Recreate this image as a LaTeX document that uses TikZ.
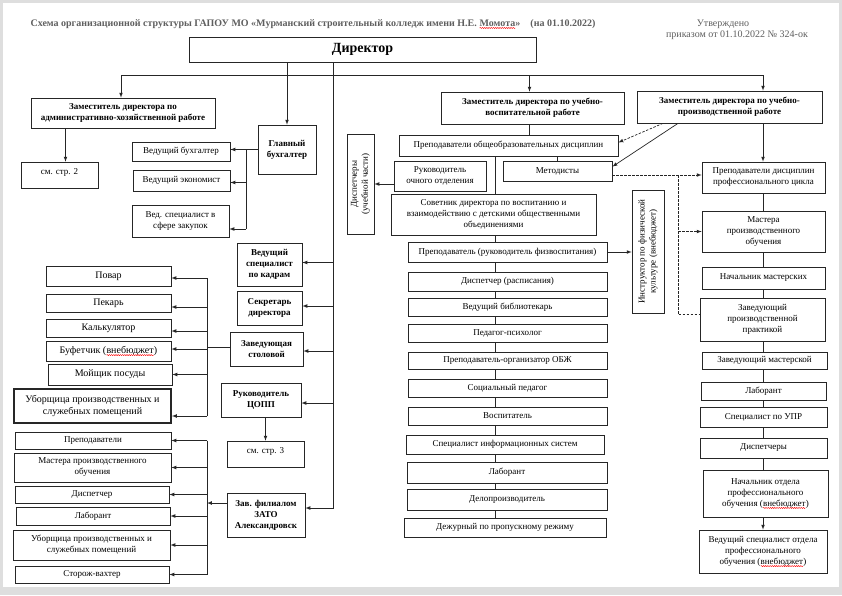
\documentclass[tikz,border=0pt]{standalone}
\usepackage{fontspec}
\setmainfont{Liberation Serif}
\usetikzlibrary{decorations.pathmorphing}

\definecolor{titlegray}{RGB}{95,95,95}
\definecolor{framegray}{RGB}{222,222,222}

% red wavy underline of the spell checker
\newcommand\spellerr[1]{\tikz[baseline=(w.base)]{\node[draw=none, fill=none, inner sep=0pt, outer sep=0pt,
  minimum width=0pt, minimum height=0pt, anchor=base] (w) {#1};
  \draw[red, line width=0.4pt, solid, -, decorate, decoration={snake, amplitude=0.6pt, segment length=2.2pt}]
  ([yshift=-1.8pt]w.base west) -- ([yshift=-1.8pt]w.base east);}}

\tikzset{
  box/.style={draw=black!85, fill=white, line width=0.7pt, inner sep=1pt, align=center, font=\fontsize{9}{11}\selectfont},
  bbox/.style={box, font=\fontsize{9}{11}\selectfont\bfseries},
  kbox/.style={box, font=\fontsize{10}{12}\selectfont},
  link/.style={line width=0.7pt, black!85},
  arr/.style={link, -latex},
  dline/.style={link, dashed, dash pattern=on 2.5pt off 1.5pt},
}
% box from corner (x1,y1) to corner (x2,y2)
\newcommand\orgbox[7][]{%
  \pgfmathsetmacro\bw{#5-#3}\pgfmathsetmacro\bh{#6-#4}%
  \node[box, #1, minimum width=\bw pt, minimum height=\bh pt] (#2) at ({(#3+#5)/2},{(#4+#6)/2}) {#7};}

\begin{document}
\begin{tikzpicture}[x=1pt, y=-1pt]
\useasboundingbox (0,0) rectangle (842,595);
\fill[framegray] (0,0) rectangle (842,595);
\fill[white] (3,3) rectangle (839,587);

% header
\node[anchor=west, text=titlegray, font=\fontsize{10}{12}\selectfont\bfseries] (title) at (27,24)
  {Схема организационной структуры ГАПОУ МО «Мурманский строительный колледж имени Н.Е. \spellerr{Момота}»\quad (на 01.10.2022)};
\node[align=center, text=titlegray, font=\fontsize{10}{11.5}\selectfont] (approved) at (737,30)
  {Утверждено\hspace*{28pt}\\приказом от 01.10.2022 № 324-ок};

% director and deputies
\orgbox[font=\fontsize{14}{16}\selectfont\bfseries]{dir}{189}{37}{536}{62}{Директор}
\orgbox[bbox]{ahr}{31}{98}{215}{128}{Заместитель директора по\\административно-хозяйственной работе}
\orgbox[bbox]{uvr}{441}{92}{624}{124}{Заместитель директора по учебно-\\воспитательной работе}
\orgbox[bbox]{upr}{637}{91}{822}{123}{Заместитель директора по учебно-\\производственной работе}

\coordinate (hub) at (333,75);
\coordinate (rcol) at (763,0);
\draw[link] (dir.south -| hub) -- (hub);
\draw[arr] (hub) -| ([xshift=-2pt]ahr.north);
\draw[arr] (hub) -| ([xshift=-3pt]uvr.north);
\draw[arr] (hub) -| (upr.north -| rcol);

% left: administration
\orgbox{pg2}{21}{162}{98}{188}{см. стр. 2\\[-4pt]}
\draw[arr] ([xshift=6pt]ahr.south -| pg2) -- ([xshift=6pt]pg2.north);

\orgbox[bbox]{gb}{258}{125}{316}{174}{Главный\\бухгалтер}
\orgbox{buh}{132}{142}{230}{161}{Ведущий бухгалтер}
\orgbox{econ}{133}{170}{230}{191}{Ведущий экономист}
\orgbox{zak}{132}{205}{229}{237}{Вед. специалист в\\сфере закупок}
\draw[arr] (dir.south -| gb) -- (gb);
\coordinate (gbus) at (246,0);
\draw[link] (gb.west) -- (gb.west -| gbus) -- ([yshift=-8pt]zak.east -| gbus);
\draw[arr] (gb.west -| gbus) -- (gb.west -| buh.east);
\draw[arr] ([yshift=-2pt]econ.east -| gbus) -- ([yshift=-2pt]econ.east);
\draw[arr] ([yshift=-8pt]zak.east -| gbus) -- ([yshift=-8pt]zak.east);

\orgbox[bbox]{kadry}{237}{243}{302}{286}{Ведущий\\специалист\\по кадрам}
\orgbox[bbox]{sekr}{237}{291}{302}{325}{Секретарь\\директора}
\orgbox[bbox]{stol}{230}{332}{303}{366}{Заведующая\\столовой}
\orgbox[bbox]{copp}{221}{383}{301}{417}{Руководитель\\ЦОПП}
\orgbox{pg3}{227}{441}{304}{467}{см. стр. 3\\[-4pt]}
\orgbox[bbox]{fil}{227}{493}{305}{537}{Зав. филиалом\\ЗАТО\\Александровск}
\draw[arr] (hub) |- ([yshift=7pt]fil.east);
\foreach \n/\s in {kadry/2, sekr/2, stol/-2, copp/-3}
  \draw[arr] ([yshift=\s pt]\n.east -| hub) -- ([yshift=\s pt]\n.east);
\draw[arr] (copp.south -| pg3) -- (pg3);

% left: canteen
\orgbox[kbox]{povar}{46}{266}{171}{286}{Повар}
\orgbox[kbox]{pekar}{46}{294}{171}{312}{Пекарь}
\orgbox[kbox]{kalk}{46}{319}{171}{337}{Калькулятор}
\orgbox[kbox]{bufet}{46}{341}{171}{361}{Буфетчик (\spellerr{внебюджет})}
\orgbox[kbox]{moy}{48}{364}{172}{385}{Мойщик посуды}
\orgbox[kbox, line width=1.8pt]{ubor}{14}{389}{171}{423}{Уборщица производственных и\\служебных помещений}
\coordinate (kbus) at (207,0);
\draw[link] ([yshift=2pt]stol.west) -- ([yshift=2pt]stol.west -| kbus);
\draw[link] ([yshift=-2pt]povar.east -| kbus) -- ([yshift=-10pt]ubor.east -| kbus);
\foreach \n/\s in {povar/-2, pekar/-4, kalk/-3, bufet/2, moy/0, ubor/-10}
  \draw[arr] ([yshift=\s pt]\n.east -| kbus) -- ([yshift=\s pt]\n.east);

% left: branch
\orgbox{fprep}{15}{432}{171}{449}{Преподаватели}
\orgbox{fmast}{14}{453}{171}{482}{Мастера производственного\\обучения}
\orgbox{fdisp}{15}{486}{169}{503}{Диспетчер}
\orgbox{flab}{16}{507}{170}{525}{Лаборант}
\orgbox{fubor}{13}{530}{170}{560}{Уборщица производственных и\\служебных помещений}
\orgbox{stor}{15}{566}{169}{583}{Сторож-вахтер}
\coordinate (fbus) at (207,0);
\draw[arr] ([yshift=12pt]fil.west) -- ([yshift=12pt]fil.west -| fbus);
\draw[link] (fprep.east -| fbus) -- (stor.east -| fbus);
\foreach \n in {fprep, fmast, fdisp, flab, fubor, stor}
  \draw[arr] (\n.east -| fbus) -- (\n.east);

% middle: educational work
\coordinate (mtr) at (495,0);
\draw[link] ([xshift=-3pt]uvr.south) -- ([xshift=-3pt]uvr.south |- 0,135);
\draw[link] (mtr |- 0,156) -- (mtr |- 0,518);
\orgbox{obsh}{399}{135}{618}{156}{Преподаватели общеобразовательных дисциплин}
\orgbox{och}{394}{161}{486}{191}{Руководитель\\очного отделения}
\orgbox{metod}{503}{161}{612}{181}{Методисты}
\orgbox{disp}{347}{134}{374}{234}{}
\node[rotate=90, align=center, font=\fontsize{9}{11}\selectfont] at (disp.center) {Диспетчеры\\(учебной части)};
\orgbox{sovet}{391}{194}{596}{235}{Советник директора по воспитанию и\\взаимодействию с детскими общественными\\объединениями}
\orgbox{fiz}{408}{242}{607}{262}{Преподаватель (руководитель физвоспитания)}
\orgbox{instr}{632}{190}{664}{313}{}
\node[rotate=90, align=center, font=\fontsize{9}{11}\selectfont] at (instr.center) {Инструктор по физической\\культуре (внебюджет)};
\orgbox{mdisp}{408}{272}{607}{291}{Диспетчер (расписания)}
\orgbox{bibl}{408}{298}{607}{316}{Ведущий библиотекарь}
\orgbox{psych}{408}{324}{607}{342}{Педагог-психолог}
\orgbox{obzh}{408}{352}{607}{369}{Преподаватель-организатор ОБЖ}
\orgbox{socp}{408}{379}{607}{397}{Социальный педагог}
\orgbox{vosp}{408}{407}{607}{425}{Воспитатель}
\orgbox{infs}{406}{435}{604}{454}{Специалист информационных систем}
\orgbox{mlab}{407}{462}{607}{483}{Лаборант}
\orgbox{delo}{407}{489}{607}{510}{Делопроизводитель}
\orgbox{dezh}{404}{518}{606}{537}{Дежурный по пропускному режиму}
\draw[link] (obsh.south -| metod) -- (metod);
\draw[arr] ([yshift=-8pt]och.west) -- ([yshift=-8pt]och.west -| disp.east);
\draw[arr] (fiz.east) -- (fiz.east -| instr.west);

% right: production work
\draw[link] (rcol |- 0,193) -- (rcol |- 0,470);
\orgbox{pprof}{702}{162}{825}{193}{Преподаватели дисциплин\\профессионального цикла}
\orgbox{mastr}{702}{211}{825}{252}{Мастера\\производственного\\обучения}
\orgbox{nmast}{702}{267}{825}{289}{Начальник мастерских}
\orgbox{zpr}{700}{298}{825}{341}{Заведующий\\производственной\\практикой}
\orgbox{zmast}{702}{352}{827}{369}{Заведующий мастерской}
\orgbox{rlab}{701}{382}{826}{400}{Лаборант}
\orgbox{supr}{700}{407}{827}{427}{Специалист по УПР}
\orgbox{rdisp}{700}{438}{827}{458}{Диспетчеры}
\orgbox{nach}{703}{470}{828}{517}{Начальник отдела\\профессионального\\обучения (\spellerr{внебюджет})}
\orgbox{vedsp}{699}{530}{827}{573}{Ведущий специалист отдела\\профессионального\\обучения (\spellerr{внебюджет})}
\draw[arr] (upr.south -| rcol) -- (pprof.north -| rcol);
\draw[arr] (nach.south -| rcol) -- (vedsp.north -| rcol);

% dashed links
\coordinate (dcol) at (678,0);
\draw[dline, -latex] ([xshift=-15pt]upr.south -| dcol) -- ([yshift=3pt]obsh.east);
\draw[arr] (upr.south -| dcol) -- ([yshift=-6pt]metod.north east);
\draw[dline, -latex] ([yshift=-4pt]metod.east) -- ([yshift=-4pt]metod.east -| pprof.west);
\draw[dline] ([yshift=-4pt]metod.east -| dcol) -- ([yshift=5pt]zpr.west -| dcol) -- ([yshift=5pt]zpr.west);
\draw[dline, -latex] (mastr.west -| dcol) -- (mastr.west);
\end{tikzpicture}
\end{document}
